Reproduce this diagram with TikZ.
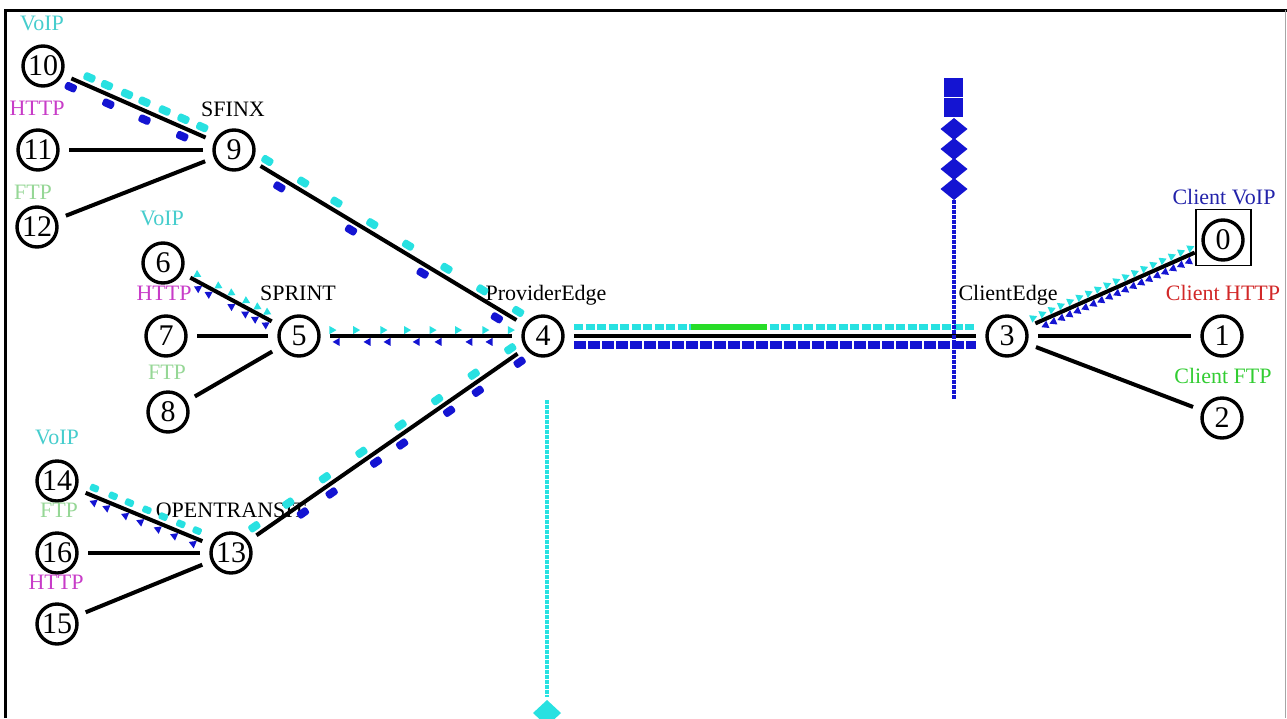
\documentclass[tikz,border=0pt]{standalone}
\usepackage{fontspec}
\setmainfont{Liberation Serif}
\usetikzlibrary{shapes.geometric}

\definecolor{pktcyan}{RGB}{40,225,225}
\definecolor{pktblue}{RGB}{20,20,210}
\definecolor{pktgreen}{RGB}{40,220,40}
\definecolor{voipc}{RGB}{70,205,205}
\definecolor{httpc}{RGB}{200,60,200}
\definecolor{ftpc}{RGB}{150,215,150}
\definecolor{cvoip}{RGB}{35,35,170}
\definecolor{chttp}{RGB}{210,40,40}
\definecolor{cftp}{RGB}{50,205,50}

\begin{document}
\begin{tikzpicture}[x=1pt, y=-1pt,
  nd/.style={circle, draw, line width=3.4pt, minimum size=40pt, inner sep=0pt,
             outer sep=11pt, font=\fontsize{30}{30}\selectfont},
  lbl/.style={inner sep=0pt, text height=15pt, text depth=0pt,
              font=\fontsize{22}{22}\selectfont},
  link/.style={line width=4pt},
  blob/.style={inner sep=0pt, minimum width=12pt, minimum height=8pt,
               rounded corners=2.5pt, sloped},
  smallblob/.style={blob, minimum width=9pt, minimum height=7pt, rounded corners=2pt},
  tri/.style={isosceles triangle, isosceles triangle apex angle=60, inner sep=0pt,
              minimum size=7pt, sloped},
  cyb/.style={blob, fill=pktcyan, above=4pt},
  blb/.style={blob, fill=pktblue, below=4pt},
  cys/.style={smallblob, fill=pktcyan, above=4pt},
  cyt/.style={tri, fill=pktcyan, above=3pt},
  blt/.style={tri, fill=pktblue, below=3pt, shape border rotate=180},
  queue/.style={line width=4.5pt, dash pattern=on 3.5pt off 1.5pt}
]
\useasboundingbox (0,0) rectangle (1287,718);
\fill[white] (0,0) rectangle (1287,718);

% window frame
\draw[line width=3pt] (5.5,718) -- (5.5,10) -- (1287,10);
\draw[black!35, line width=1pt] (1285.5,10) -- (1285.5,718);

% nodes
\node[nd] (n10) at (43,66) {10};
\node[nd] (n11) at (38,150) {11};
\node[nd] (n12) at (37,227) {12};
\node[nd] (n9)  at (234,150) {9};
\node[nd] (n6)  at (163,263) {6};
\node[nd] (n7)  at (166,336) {7};
\node[nd] (n8)  at (168,412) {8};
\node[nd] (n5)  at (299,336) {5};
\node[nd] (n4)  at (543,336) {4};
\node[nd] (n14) at (57,481) {14};
\node[nd] (n16) at (57,553) {16};
\node[nd] (n15) at (57,624) {15};
\node[nd] (n13) at (231,553) {13};
\node[nd] (n3)  at (1007,336) {3};
\node[nd] (n0)  at (1223,240) {0};
\node[nd] (n1)  at (1222,336) {1};
\node[nd] (n2)  at (1222,418) {2};
\node[draw, line width=1.3pt, minimum width=55pt, minimum height=56pt, inner sep=0pt]
  (box0) at (1223.5,237.5) {};

% links
\draw[link] (n10) -- (n9);
\draw[link] (n11) -- (n9);
\draw[link] (n12) -- (n9);
\draw[link] (n9) -- (n4);
\draw[link] (n6) -- (n5);
\draw[link] (n7) -- (n5);
\draw[link] (n8) -- (n5);
\draw[link] (n5) -- (n4);
\draw[link] (n13) -- (n4);
\draw[link] (n14) -- (n13);
\draw[link] (n16) -- (n13);
\draw[link] (n15) -- (n13);
\draw[link] (n4) -- (n3);
\draw[link] (n3) -- (n0);
\draw[link] (n3) -- (n1);
\draw[link] (n3) -- (n2);

% labels
\node[lbl, text=voipc] (l10) at (42,23) {VoIP};
\node[lbl, text=httpc] (l11) at (37,108) {HTTP};
\node[lbl, text=ftpc]  (l12) at (33,192) {FTP};
\node[lbl] (lsfinx) at (233,109) {SFINX};
\node[lbl, text=voipc] (l6) at (162,218) {VoIP};
\node[lbl, text=httpc] (l7) at (164,293) {HTTP};
\node[lbl, text=ftpc]  (l8) at (167,372) {FTP};
\node[lbl] (lsprint) at (298,293) {SPRINT};
\node[lbl] (lprov) at (546,293) {ProviderEdge};
\node[lbl, text=voipc] (l14) at (57,437) {VoIP};
\node[lbl, text=ftpc]  (l16) at (59,510) {FTP};
\node[lbl, text=httpc] (l15) at (56,582) {HTTP};
\node[lbl] (lopen) at (231,510) {OPENTRANSIT};
\node[lbl] (lcedge) at (1008,293) {ClientEdge};
\node[lbl, text=cvoip] (l0) at (1224,197) {Client VoIP};
\node[lbl, text=chttp] (l1) at (1223,293) {Client HTTP};
\node[lbl, text=cftp]  (l2) at (1223,376) {Client FTP};

% packets in flight
\foreach \p in {0.11,0.24,0.39,0.52,0.67,0.81,0.95}
  \path (n10) -- (n9) node[cyb, pos=\p] {};
\foreach \p in {0.02,0.30,0.57,0.85}
  \path (n10) -- (n9) node[blb, pos=\p] {};
\foreach \p in {0.01,0.15,0.28,0.42,0.56,0.71,0.85,0.99}
  \path (n9) -- (n4) node[cyb, pos=\p] {};
\foreach \p in {0.09,0.37,0.65,0.94}
  \path (n9) -- (n4) node[blb, pos=\p] {};
\foreach \p in {0.05,0.31,0.47,0.65,0.79,0.91}
  \path (n6) -- (n5) node[cyt, pos=\p] {};
\foreach \p in {0.13,0.26,0.54,0.71,0.83,0.96}
  \path (n6) -- (n5) node[blt, pos=\p] {};
\foreach \p in {0.01,0.14,0.29,0.42,0.56,0.70,0.85,0.99}
  \path (n5) -- (n4) node[cyt, pos=\p] {};
\foreach \p in {0.04,0.21,0.32,0.48,0.60,0.77,0.88}
  \path (n5) -- (n4) node[blt, pos=\p] {};
\foreach \p in {0.01,0.14,0.28,0.42,0.57,0.71,0.85,0.99}
  \path (n13) -- (n4) node[cyb, pos=\p] {};
\foreach \p in {0.16,0.27,0.44,0.54,0.72,0.83,0.99}
  \path (n13) -- (n4) node[blb, pos=\p] {};
\foreach \p in {0.05,0.21,0.35,0.5,0.64,0.79,0.93}
  \path (n14) -- (n13) node[cys, pos=\p] {};
\foreach \p in {0.09,0.2,0.36,0.49,0.64,0.78,0.94}
  \path (n14) -- (n13) node[blt, pos=\p] {};
\foreach \p in {0.0,0.058,...,0.99}
  \path (n3) -- (n0) node[cyt, pos=\p] {};
\foreach \p in {0.05,0.1,...,1.0}
  \path (n3) -- (n0) node[blt, pos=\p] {};

% packet trains on the ProviderEdge -- ClientEdge link
\draw[pktcyan, line width=6pt, dash pattern=on 9pt off 2.5pt]
  ([yshift=9.5pt]n4.east) -- ([yshift=9.5pt]n3.west);
\draw[pktblue, line width=8pt, dash pattern=on 12pt off 2pt]
  ([yshift=-8.5pt]n4.east) -- ([yshift=-8.5pt]n3.west);
\path ([yshift=9.5pt]n4.east) -- ([yshift=9.5pt]n3.west)
  coordinate[pos=0.29] (g1) coordinate[pos=0.48] (g2);
\draw[pktgreen, line width=6pt] (g1) -- (g2);

% drop queue at ClientEdge
\coordinate (qb1) at (954,200);
\coordinate (qb2) at (954,400);
\draw[pktblue, queue] (qb1) -- (qb2);
\fill[pktblue] (944,78) rectangle (963,96.8);
\fill[pktblue] (944,98.2) rectangle (963,117);
\foreach \c in {129,149,169,189}
  \fill[pktblue] (954,\c-11) -- (967.5,\c) -- (954,\c+11) -- (940.5,\c) -- cycle;

% drop queue at ProviderEdge
\coordinate (qc1) at (547,400);
\coordinate (qc2) at (547,697);
\draw[pktcyan, queue] (qc1) -- (qc2);
\fill[pktcyan] (547,700) -- (561,713) -- (547,726) -- (533,713) -- cycle;
\end{tikzpicture}
\end{document}
